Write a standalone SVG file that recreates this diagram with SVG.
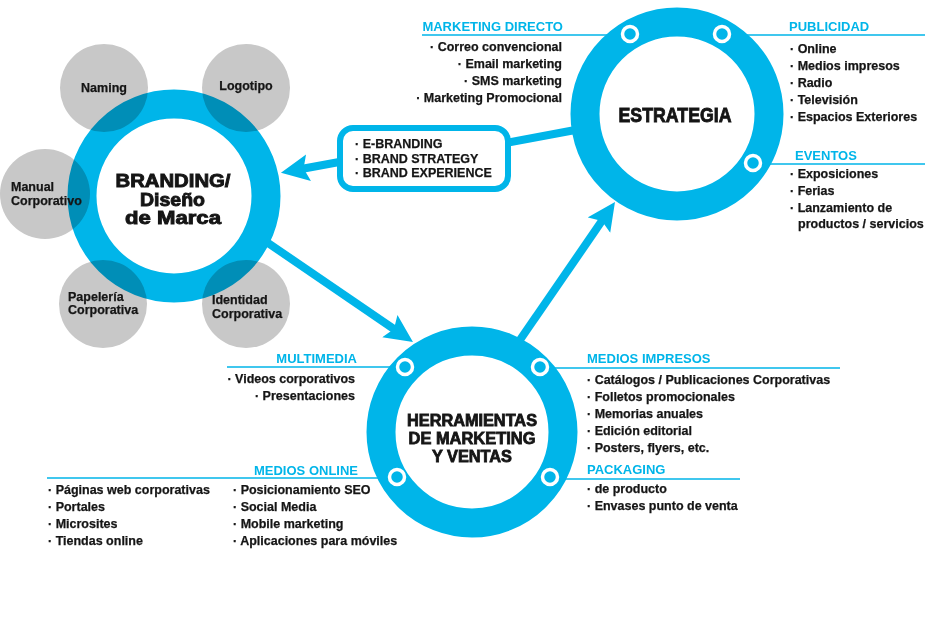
<svg xmlns="http://www.w3.org/2000/svg" width="925" height="620" viewBox="0 0 925 620">
<style>
.ring{fill:none;stroke:#00b5e9;stroke-width:29}
.gray{fill:#c8c8c8;mix-blend-mode:multiply}
.dot{fill:#00b5e9;stroke:#fff;stroke-width:3.5}
.ul{stroke:#00b5e9;stroke-width:1.5;fill:none}
.conn{stroke:#00b5e9;stroke-width:8;fill:none}
.t{font-family:"Liberation Sans",Arial,Helvetica,sans-serif;font-weight:bold;fill:#151515}
.it{font-size:12.5px;stroke:#151515;stroke-width:0.25}
.gt{font-size:12.5px;stroke:#151515;stroke-width:0.25}
.h{font-family:"Liberation Sans",Arial,Helvetica,sans-serif;font-weight:bold;font-size:13px;fill:#00b5e9}
.big{font-size:18px;text-anchor:middle;stroke:#151515;stroke-width:0.9}
.mid{font-size:16px;text-anchor:middle;stroke:#151515;stroke-width:0.8}
.e{text-anchor:end}
</style>
<defs>
<marker id="ah" viewBox="0 -14 30 28" refX="6" refY="0" markerWidth="30" markerHeight="28" markerUnits="userSpaceOnUse" orient="auto">
<path d="M0,-13.5 L28,0 L0,13.5 L5,0 Z" fill="#00b5e9"/>
</marker>
</defs>
<rect width="925" height="620" fill="#fff"/>

<g id="connectors">
<line class="conn" x1="255.6" y1="234.5" x2="394.8" y2="329.6" marker-end="url(#ah)"/>
<line class="conn" x1="516.3" y1="345.2" x2="602.5" y2="220.1" marker-end="url(#ah)"/>
<line class="conn" x1="342" y1="161.5" x2="302.6" y2="168.8" marker-end="url(#ah)"/>
<line class="conn" x1="508" y1="142.5" x2="586" y2="128"/>
</g>

<g id="branding">
<circle class="ring" cx="174" cy="196" r="92"/>
<circle class="gray" cx="104" cy="88" r="44"/>
<circle class="gray" cx="246" cy="88" r="44"/>
<circle class="gray" cx="45" cy="194" r="45"/>
<circle class="gray" cx="103" cy="304" r="44"/>
<circle class="gray" cx="246" cy="304" r="44"/>
<text class="t big" x="173" y="187" textLength="115" lengthAdjust="spacingAndGlyphs">BRANDING/</text>
<text class="t big" x="172.5" y="205.5" textLength="65" lengthAdjust="spacingAndGlyphs">Diseño</text>
<text class="t big" x="173" y="224" textLength="96" lengthAdjust="spacingAndGlyphs">de Marca</text>
</g>
<g id="naming"><text class="t gt" x="104" y="92" text-anchor="middle">Naming</text></g>
<g id="logotipo"><text class="t gt" x="246" y="90" text-anchor="middle">Logotipo</text></g>
<g id="manual"><text class="t gt" x="11" y="191">Manual</text><text class="t gt" x="11" y="204.5">Corporativo</text></g>
<g id="papeleria"><text class="t gt" x="68" y="301">Papelería</text><text class="t gt" x="68" y="314">Corporativa</text></g>
<g id="identidad"><text class="t gt" x="212" y="304">Identidad</text><text class="t gt" x="212" y="318">Corporativa</text></g>

<g id="estrategia">
<line class="ul" x1="422" y1="35" x2="630" y2="35"/>
<line class="ul" x1="722" y1="35" x2="925" y2="35"/>
<line class="ul" x1="753" y1="164" x2="925" y2="164"/>
<circle class="ring" cx="677" cy="114" r="92"/>
<circle class="dot" cx="630" cy="34" r="7.5"/>
<circle class="dot" cx="722" cy="34" r="7.5"/>
<circle class="dot" cx="753" cy="163" r="7.5"/>
<text class="t" x="675" y="122" font-size="21" text-anchor="middle" stroke="#151515" stroke-width="0.9" textLength="113" lengthAdjust="spacingAndGlyphs">ESTRATEGIA</text>
</g>

<g id="marketing-directo">
<text class="h e" x="563" y="31">MARKETING DIRECTO</text>
<text class="t it e" x="562" y="51">· Correo convencional</text>
<text class="t it e" x="562" y="68">· Email marketing</text>
<text class="t it e" x="562" y="85">· SMS marketing</text>
<text class="t it e" x="562" y="102">· Marketing Promocional</text>
</g>

<g id="publicidad">
<text class="h" x="789" y="31">PUBLICIDAD</text>
<text class="t it" x="790" y="53">· Online</text>
<text class="t it" x="790" y="70">· Medios impresos</text>
<text class="t it" x="790" y="87">· Radio</text>
<text class="t it" x="790" y="104">· Televisión</text>
<text class="t it" x="790" y="121">· Espacios Exteriores</text>
</g>

<g id="eventos">
<text class="h" x="795" y="160">EVENTOS</text>
<text class="t it" x="790" y="178">· Exposiciones</text>
<text class="t it" x="790" y="195">· Ferias</text>
<text class="t it" x="790" y="212">· Lanzamiento de</text>
<text class="t it" x="798" y="228">productos / servicios</text>
</g>

<g id="brand-box">
<rect x="340" y="128" width="168" height="61" rx="13" fill="#fff" stroke="#00b5e9" stroke-width="6"/>
<text class="t it" x="355" y="148">· E-BRANDING</text>
<text class="t it" x="355" y="162.5">· BRAND STRATEGY</text>
<text class="t it" x="355" y="176.5">· BRAND EXPERIENCE</text>
</g>

<g id="herramientas">
<line class="ul" x1="227" y1="367" x2="405" y2="367"/>
<line class="ul" x1="47" y1="478" x2="397" y2="478"/>
<line class="ul" x1="540" y1="368" x2="840" y2="368"/>
<line class="ul" x1="550" y1="479" x2="740" y2="479"/>
<circle class="ring" cx="472" cy="432" r="91"/>
<circle class="dot" cx="405" cy="367" r="7.5"/>
<circle class="dot" cx="540" cy="367" r="7.5"/>
<circle class="dot" cx="397" cy="477" r="7.5"/>
<circle class="dot" cx="550" cy="477" r="7.5"/>
<text class="t mid" x="472" y="426" textLength="130" lengthAdjust="spacingAndGlyphs">HERRAMIENTAS</text>
<text class="t mid" x="472" y="444" textLength="127" lengthAdjust="spacingAndGlyphs">DE MARKETING</text>
<text class="t mid" x="472" y="462" textLength="80" lengthAdjust="spacingAndGlyphs">Y VENTAS</text>
</g>

<g id="multimedia">
<text class="h e" x="357" y="363">MULTIMEDIA</text>
<text class="t it e" x="355" y="383">· Videos corporativos</text>
<text class="t it e" x="355" y="400">· Presentaciones</text>
</g>

<g id="medios-online">
<text class="h e" x="358" y="475">MEDIOS ONLINE</text>
<text class="t it" x="48" y="494">· Páginas web corporativas</text>
<text class="t it" x="48" y="511">· Portales</text>
<text class="t it" x="48" y="528">· Microsites</text>
<text class="t it" x="48" y="545">· Tiendas online</text>
<text class="t it" x="233" y="494">· Posicionamiento SEO</text>
<text class="t it" x="233" y="511">· Social Media</text>
<text class="t it" x="233" y="528">· Mobile marketing</text>
<text class="t it" x="233" y="545">· Aplicaciones para móviles</text>
</g>

<g id="medios-impresos">
<text class="h" x="587" y="363">MEDIOS IMPRESOS</text>
<text class="t it" x="587" y="384">· Catálogos / Publicaciones Corporativas</text>
<text class="t it" x="587" y="401">· Folletos promocionales</text>
<text class="t it" x="587" y="418">· Memorias anuales</text>
<text class="t it" x="587" y="435">· Edición editorial</text>
<text class="t it" x="587" y="452">· Posters, flyers, etc.</text>
</g>

<g id="packaging">
<text class="h" x="587" y="474">PACKAGING</text>
<text class="t it" x="587" y="493">· de producto</text>
<text class="t it" x="587" y="510">· Envases punto de venta</text>
</g>
</svg>
